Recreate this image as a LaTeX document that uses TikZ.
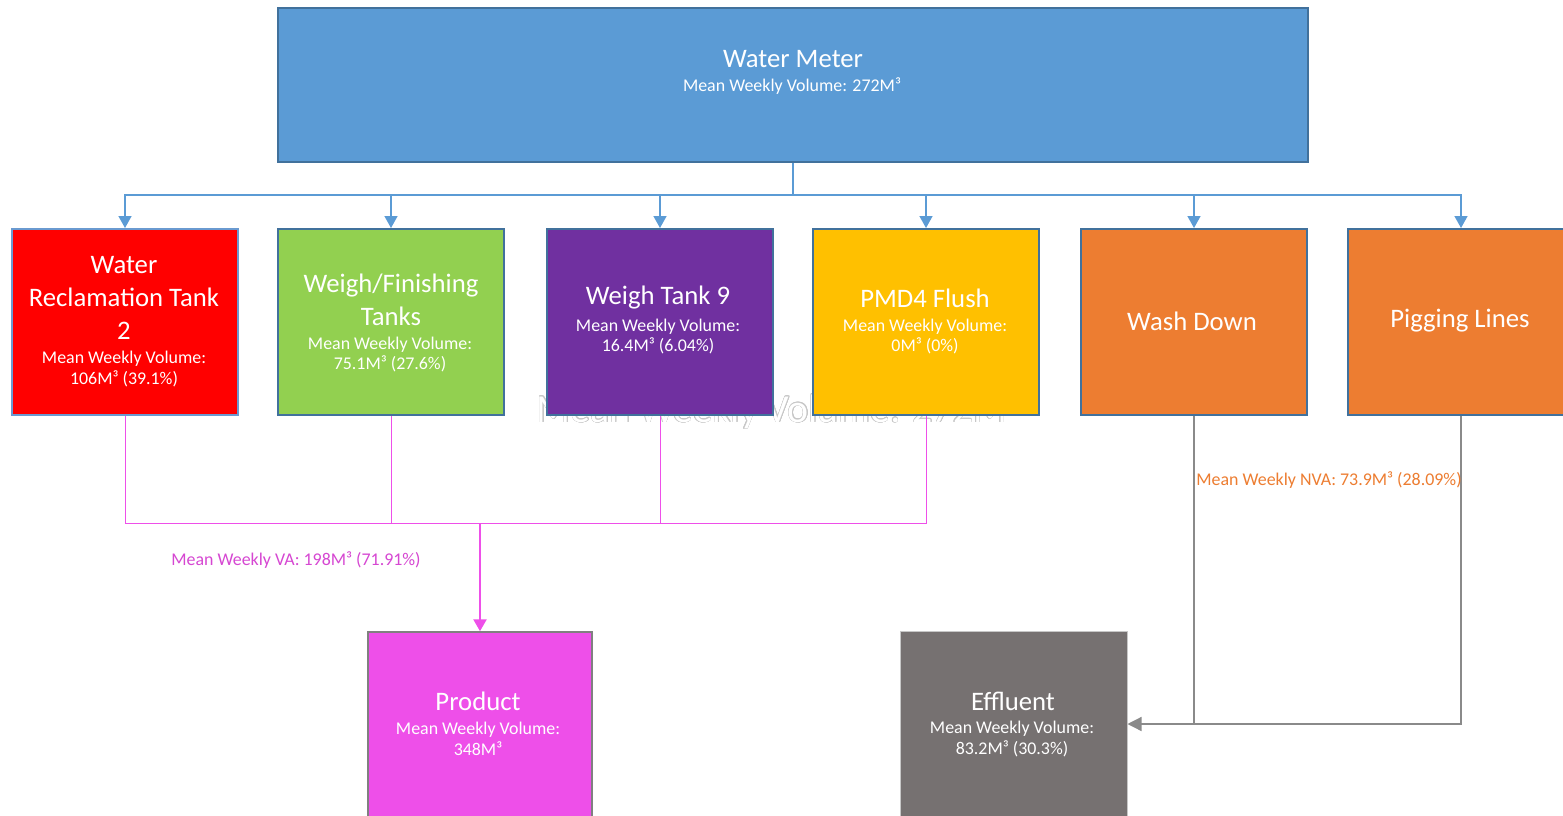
\documentclass[tikz,border=0pt]{standalone}
\usepackage{fontspec}
\setmainfont{Carlito}
\usepackage{contour}
\usetikzlibrary{arrows.meta}

\definecolor{meterblue}{HTML}{5B9BD5}
\definecolor{edgeblue}{HTML}{41719C}
\definecolor{lightedge}{HTML}{6A9AD0}
\definecolor{tankred}{HTML}{FF0000}
\definecolor{tankgreen}{HTML}{92D050}
\definecolor{tankpurple}{HTML}{7030A0}
\definecolor{flushamber}{HTML}{FFC000}
\definecolor{nvaorange}{HTML}{ED7D31}
\definecolor{prodpink}{HTML}{EE4FE9}
\definecolor{effgray}{HTML}{767171}
\definecolor{linegray}{HTML}{8A8A8A}

\tikzset{
  stagebox/.style={rectangle, inner sep=0pt, line width=2pt, draw=edgeblue,
    minimum width=226pt, minimum height=186pt},
  ttl/.style={text=white, align=center, inner sep=0pt,
    font=\fontsize{26.7}{33}\selectfont},
  sub/.style={text=white, align=center, inner sep=0pt,
    font=\fontsize{17.9}{20.5}\selectfont},
  feed/.style={draw=meterblue, line width=1.5pt,
    -{Triangle[width=13pt,length=12pt]}},
  vaflow/.style={draw=prodpink, line width=1pt},
  nvaflow/.style={draw=linegray, line width=1.3pt},
  flowlabel/.style={inner sep=0pt, font=\fontsize{17.9}{20}\selectfont},
}

\begin{document}
\begin{tikzpicture}[x=1pt, y=-1pt]
  \useasboundingbox (0,0) rectangle (1563,816);
  \clip (0,0) rectangle (1563,816);
  \fill[white] (0,0) rectangle (1563,816);

  % faint white lettering with a grey outline, lying under the boxes
  \node[inner sep=0pt, font=\fontsize{39.7}{42}\selectfont, text=white] (ghost) at (772,412)
    {\contourlength{0.5pt}\contour{black!22}{Mean Weekly Volume: 272M}};

  % source
  \node[stagebox, fill=meterblue, minimum width=1030pt, minimum height=154pt] (meter) at (793,85) {};
  \node[ttl] (meterT) at (793,59) {Water Meter};
  \node[sub] (meterS) at (792,86) {Mean Weekly Volume: 272M³};

  % consumers
  \node[stagebox, fill=tankred, draw=lightedge] (wr) at (125,322) {};
  \node[stagebox, fill=tankgreen] (wf) at (391,322) {};
  \node[stagebox, fill=tankpurple] (wt) at (660,322) {};
  \node[stagebox, fill=flushamber] (pmd) at (926,322) {};
  \node[stagebox, fill=nvaorange] (wd) at (1194,322) {};
  \node[stagebox, fill=nvaorange] (pig) at (1461,322) {};

  \node[ttl] (wrT) at (124,298) {Water\\Reclamation Tank\\2};
  \node[sub] (wrS) at (124,369) {Mean Weekly Volume:\\106M³ (39.1\%)};
  \node[ttl] (wfT) at (391,299.5) {Weigh/Finishing\\Tanks};
  \node[sub] (wfS) at (390,354.5) {Mean Weekly Volume:\\75.1M³ (27.6\%)};
  \node[ttl] (wtT) at (658,298) {Weigh Tank 9};
  \node[sub] (wtS) at (658,336.5) {Mean Weekly Volume:\\16.4M³ (6.04\%)};
  \node[ttl] (pmdT) at (925,298) {PMD4 Flush};
  \node[sub] (pmdS) at (925,336.5) {Mean Weekly Volume:\\0M³ (0\%)};
  \node[ttl] (wdT) at (1192,321) {Wash Down};
  \node[ttl] (pigT) at (1460,321) {Pigging Lines};

  % sinks
  \node[stagebox, fill=prodpink, draw=gray, line width=1.5pt, minimum width=224pt] (prod) at (480,725) {};
  \node[ttl] (prodT) at (478,701) {Product};
  \node[sub] (prodS) at (478,739) {Mean Weekly Volume:\\348M³};
  \node[stagebox, fill=effgray, draw=black!22, line width=1pt, minimum width=227pt] (eff) at (1013.5,724) {};
  \node[ttl] (effT) at (1013,701) {Effluent};
  \node[sub] (effS) at (1012,739) {Mean Weekly Volume:\\83.2M³ (30.3\%)};

  % supply distribution
  \coordinate (split) at (793,195);
  \draw[meterblue, line width=2pt] (meter.south) -- (split);
  \foreach \t in {wr,wf,wt,pmd,wd,pig} \draw[feed] (split) -| (\t.north);

  % value-adding flow into product
  \coordinate (vaEnd) at (926,523);
  \coordinate (vaJoin) at (480,523);
  \draw[vaflow] (wr.south) |- (vaEnd) -- (pmd.south);
  \draw[vaflow] (wf.south) -- (wf.south |- vaEnd);
  \draw[vaflow] (wt.south) -- (wt.south |- vaEnd);
  \draw[draw=prodpink, line width=2.5pt, -{Triangle[width=13pt,length=12pt]}] (vaJoin) -- (prod.north);
  \node[flowlabel, text=prodpink!90!black] (vaL) at (296,560) {Mean Weekly VA: 198M³ (71.91\%)};

  % non-value-adding flow into effluent
  \draw[nvaflow, -{Triangle[width=14pt,length=14pt]}] (pig.south) |- (eff.east);
  \draw[nvaflow] (wd.south) -- (wd.south |- eff.east);
  \node[flowlabel, text=nvaorange] (nvaL) at (1329,480) {Mean Weekly NVA: 73.9M³ (28.09\%)};
\end{tikzpicture}
\end{document}
